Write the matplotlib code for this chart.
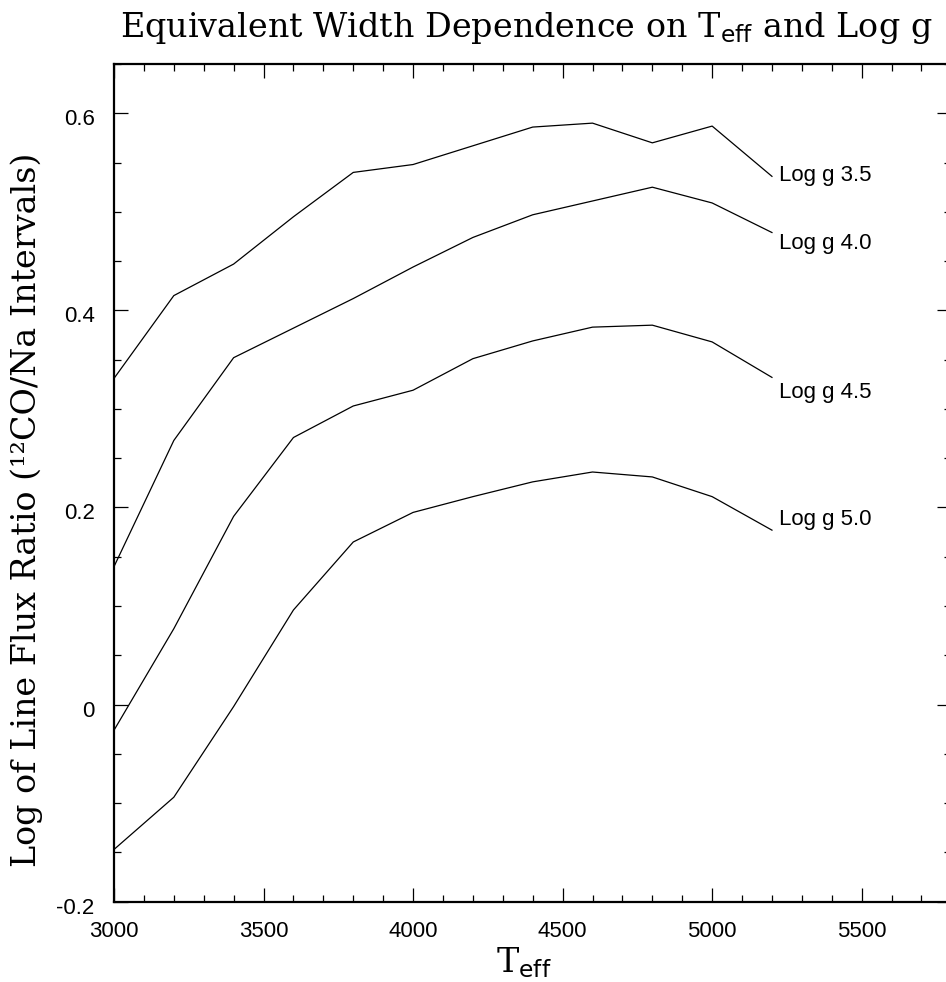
import matplotlib
matplotlib.use("Agg")
import matplotlib.pyplot as plt
from matplotlib.ticker import MultipleLocator, FuncFormatter
from matplotlib.transforms import ScaledTranslation

# effective temperature grid
teff = [3000, 3200, 3400, 3600, 3800, 4000, 4200, 4400, 4600, 4800, 5000, 5200]

# log of 12CO/Na line flux ratio for each surface gravity
logg35 = [0.331, 0.415, 0.447, 0.495, 0.540, 0.548, 0.567, 0.586, 0.590, 0.570, 0.587, 0.536]
logg40 = [0.140, 0.268, 0.352, 0.382, 0.412, 0.444, 0.474, 0.497, 0.511, 0.525, 0.509, 0.479]
logg45 = [-0.026, 0.077, 0.191, 0.271, 0.303, 0.319, 0.351, 0.369, 0.383, 0.385, 0.368, 0.332]
logg50 = [-0.147, -0.094, -0.002, 0.096, 0.165, 0.195, 0.211, 0.226, 0.236, 0.231, 0.211, 0.177]

curves = [logg35, logg40, logg45, logg50]
names = ["Log g 3.5", "Log g 4.0", "Log g 4.5", "Log g 5.0"]

plt.rcParams["axes.unicode_minus"] = False
plt.rcParams["mathtext.fontset"] = "dejavusans"

W, H = 946, 982
fig = plt.figure(figsize=(W / 100, H / 100), dpi=100)
ax = fig.add_axes([114 / W, (H - 901.7) / H, 837.4 / W, 837.7 / H])

for y in curves:
    ax.plot(teff, y, color="black", lw=0.9)

# curve labels sit just past the last point
label_y = [0.537, 0.468, 0.317, 0.188]
for name, ly in zip(names, label_y):
    ax.text(5225, ly, name, ha="left", va="center",
            fontsize=16, family="Liberation Sans")

ax.set_xlim(3000, 5800)
ax.set_ylim(-0.2, 0.65)
ax.xaxis.set_major_locator(MultipleLocator(500))
ax.xaxis.set_minor_locator(MultipleLocator(100))
ax.yaxis.set_major_locator(MultipleLocator(0.2))
ax.yaxis.set_minor_locator(MultipleLocator(0.05))
ax.yaxis.set_major_formatter(FuncFormatter(lambda v, p: f"{v:g}" if abs(v) > 1e-9 else "0"))

ax.tick_params(which="both", direction="in", top=True, right=True, width=0.9)
ax.tick_params(which="major", length=10)
ax.tick_params(which="minor", length=5)
ax.tick_params(axis="x", pad=14)
ax.tick_params(axis="y", pad=14)
for lab in ax.get_xticklabels() + ax.get_yticklabels():
    lab.set_fontsize(16)
    lab.set_family("Liberation Sans")
# y labels hang a few pixels under their ticks
nudge = ScaledTranslation(0, -0.04, fig.dpi_scale_trans)
for lab in ax.get_yticklabels():
    lab.set_transform(lab.get_transform() + nudge)
for sp in ax.spines.values():
    sp.set_linewidth(1.6)

serif = "DejaVu Serif"
fig.text(526.5 / W, 1 - 37 / H,
         r"Equivalent Width Dependence on T$_{\mathsf{eff}}$ and Log g",
         ha="center", va="baseline", fontsize=24, family=serif)
fig.text(524 / W, 1 - 972 / H, r"T$_{\mathsf{eff}}$",
         ha="center", va="baseline", fontsize=24, family=serif)
fig.text(27 / W, 1 - 510 / H, "Log of Line Flux Ratio (¹²CO/Na Intervals)",
         rotation=90, ha="center", va="center", fontsize=24, family=serif)

fig.savefig("out.png", dpi=100)
